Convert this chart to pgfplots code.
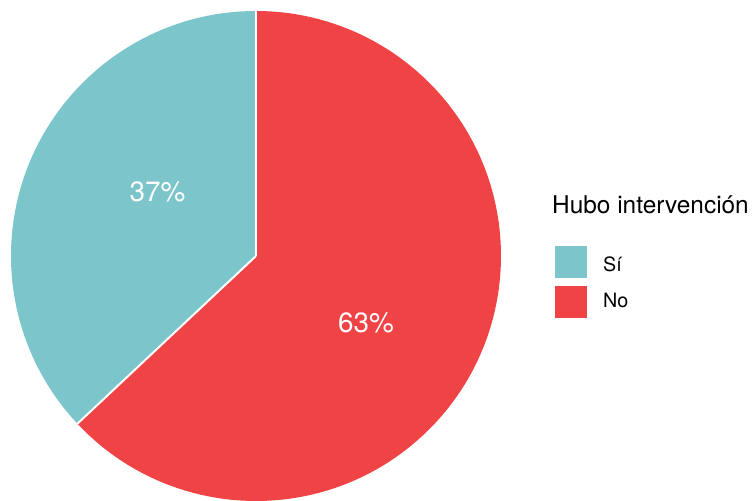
\documentclass[border=0pt]{standalone}
\usepackage{fontspec}
\setmainfont{TeX Gyre Heros}
\usepackage{pgfplots}
\pgfplotsset{compat=1.18}
\definecolor{si}{HTML}{7CC5CB}
\definecolor{no}{HTML}{EF4346}
\begin{document}
\begin{tikzpicture}
% shares (%)
\def\pSi{37}
\def\pNo{63}
\pgfmathsetmacro{\aSi}{90+3.6*\pSi}
\pgfmathsetmacro{\aNo}{\aSi+3.6*\pNo}
\begin{axis}[
  scale only axis, width=754bp, height=501bp,
  xmin=0, xmax=754, ymin=0, ymax=501,
  hide axis, clip=false, anchor=south west, at={(0,0)}]
% wedges
\fill[si] (axis cs:256,245) -- ++(90:245bp) arc[start angle=90, end angle=\aSi, radius=245bp] -- cycle;
\fill[no] (axis cs:256,245) -- ++(\aSi:245bp) arc[start angle=\aSi, end angle=\aNo, radius=245bp] -- cycle;
\draw[white, line width=2bp] (axis cs:256,245) -- ++(90:245bp);
\draw[white, line width=2bp] (axis cs:256,245) -- ++(\aSi:245bp);
% labels
\node[white, anchor=base, font=\fontsize{28}{28}\selectfont, inner sep=0pt] at (axis cs:157.5,299) {\pSi\%};
\node[white, anchor=base, font=\fontsize{28}{28}\selectfont, inner sep=0pt] at (axis cs:366,168) {\pNo\%};
% legend
\node[anchor=base west, inner sep=0pt, font=\fontsize{24.5}{24.5}\selectfont] at (axis cs:552,287) {Hubo intervención};
\fill[si] (axis cs:555,223) rectangle (axis cs:587,255);
\fill[no] (axis cs:555,183) rectangle (axis cs:587,215);
\node[anchor=base west, inner sep=0pt, font=\fontsize{19.8}{19.8}\selectfont] at (axis cs:603,229) {Sí};
\node[anchor=base west, inner sep=0pt, font=\fontsize{19.8}{19.8}\selectfont] at (axis cs:603,193) {No};
\end{axis}
\pgfresetboundingbox
\path (0,0) rectangle (754bp,501bp);
\end{tikzpicture}
\end{document}
